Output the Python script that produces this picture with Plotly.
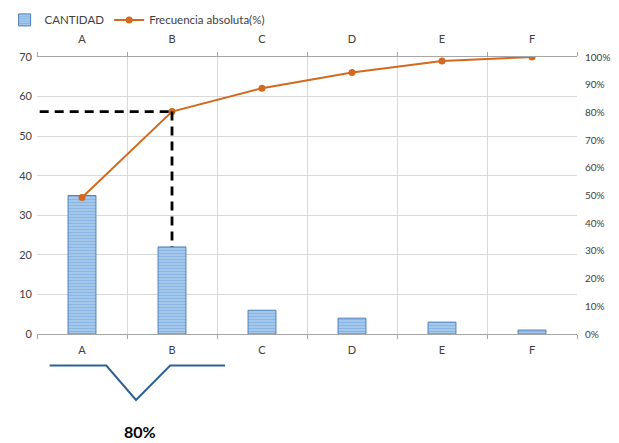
import plotly.graph_objects as go

categories = ["A", "B", "C", "D", "E", "F"]
cantidad = [35, 22, 6, 4, 3, 1]
total = sum(cantidad)
acum = []
s = 0
for v in cantidad:
    s += v
    acum.append(s / total)
threshold_label = "80%"

GRID = "#D9D9D9"
TXT = "#404040"
FONT = "Lato, Open Sans, sans-serif"

fig = go.Figure()
fig.add_trace(go.Bar(
    x=categories, y=cantidad, name="CANTIDAD", width=0.31,
    marker=dict(color="#8DB8E2", line=dict(color="#4F81BD", width=1),
                pattern=dict(shape="-", fgcolor="#6A9FD6", bgcolor="#A6CAEC", size=3, solidity=0.4)),
    xaxis="x", yaxis="y"))
fig.add_trace(go.Scatter(
    x=categories, y=acum, name="Frecuencia absoluta(%)", mode="lines+markers",
    line=dict(color="#D2691E", width=2), marker=dict(color="#D2691E", size=7),
    xaxis="x2", yaxis="y2"))

# dashed 80% guide: horizontal to B's cumulative point, then down to B bar
fig.add_shape(type="line", xref="x", yref="y2", x0=-0.47, x1=1, y0=acum[1], y1=acum[1],
              line=dict(color="black", width=2.8, dash="9px,6px"))
fig.add_shape(type="line", xref="x", yref="y2", x0=1, x1=1, y0=acum[1], y1=cantidad[1] / 70,
              line=dict(color="black", width=2.8, dash="9px,6px"))

# bracket below axis
fig.add_shape(type="path", xref="x", yref="paper",
              path="M -0.36,-0.114 L 0.27,-0.114 L 0.6,-0.238 L 0.98,-0.114 L 1.59,-0.114",
              line=dict(color="#2E6096", width=2))
fig.add_annotation(x=0.64, y=-0.395, xref="x", yref="paper", text="<b>" + threshold_label + "</b>",
                   showarrow=False, font=dict(size=16, color="black", family=FONT))

axis_common = dict(type="category", categoryorder="array", categoryarray=categories,
                   range=[-0.5, 5.5], automargin=False,
                   tickson="boundaries", ticks="outside", ticklen=4, tickcolor="#A6A6A6",
                   linecolor="#A6A6A6", showline=True,
                   tickfont=dict(size=11, color=TXT, family=FONT), zeroline=False)
fig.update_layout(
    width=611, height=435,
    margin=dict(l=29, r=42, t=49, b=109, autoexpand=False),
    plot_bgcolor="white", paper_bgcolor="white",
    font=dict(family=FONT, color=TXT, size=11),
    xaxis=dict(**axis_common, showgrid=True, gridcolor=GRID, ticklabelstandoff=6),
    xaxis2=dict(**axis_common, overlaying="x", side="top", showgrid=False, ticklabelstandoff=9),
    yaxis=dict(range=[0, 70], dtick=10, showgrid=True, gridcolor=GRID, zeroline=False,
               showline=False, automargin=False, ticklabelstandoff=4,
               tickfont=dict(size=11, color=TXT, family=FONT)),
    yaxis2=dict(range=[0, 1], dtick=0.1, tickformat=".0%", overlaying="y", side="right",
                showgrid=False, zeroline=False, showline=False, automargin=False,
                ticklabelstandoff=7, tickfont=dict(size=10, color=TXT, family=FONT)),
    legend=dict(orientation="h", x=-0.06, xanchor="left", y=1.134, yanchor="middle",
                font=dict(size=11.5, color=TXT, family=FONT), bgcolor="rgba(0,0,0,0)",
                itemwidth=30, tracegroupgap=10),
    showlegend=True,
)
fig.write_html("out.html")
